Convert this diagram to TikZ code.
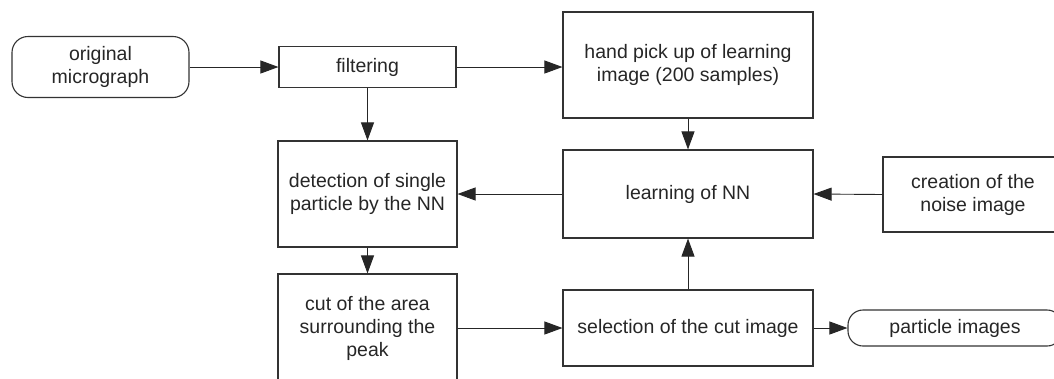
\documentclass[tikz,border=0pt]{standalone}
\usepackage{fontspec}
\setmainfont{Liberation Sans}
\usetikzlibrary{arrows.meta}
\begin{document}
\begin{tikzpicture}[x=1pt,y=-1pt,
  every node/.style={font=\fontsize{19.5pt}{23pt}\selectfont, text=black!85, align=center, inner sep=0pt},
  procbox/.style={draw=black!80, line width=1.1pt, rectangle, minimum width=#1},
  procbox/.default=177pt,
  termbox/.style={draw=black!80, line width=1.1pt, rectangle, rounded corners=#1},
  flow/.style={draw=black!85, line width=0.9pt, -{Triangle[length=18pt,width=13pt]}}
]
\useasboundingbox (0,0) rectangle (1054,378);

% process boxes
\node[termbox=16pt, minimum width=177pt, minimum height=61pt] (orig) at (100.5,67) {original\\micrograph};
\node[procbox, minimum height=41pt] (filter) at (367.5,67) {filtering};
\node[procbox=250pt, minimum height=106pt] (hand) at (688,65) {hand pick up of learning\\image (200 samples)};
\node[procbox=179pt, minimum height=106pt] (detect) at (367.5,194) {detection of single\\particle by the NN};
\node[procbox=250pt, minimum height=88pt] (learn) at (688,194) {learning of NN};
\node[procbox=180pt, minimum height=75pt] (noise) at (973,194.5) {creation of the\\noise image};
\node[procbox=179pt, minimum height=108pt] (cut) at (367.5,328) {cut of the area\\surrounding the\\peak};
\node[procbox=250pt, minimum height=76pt] (sel) at (688,328) {selection of the cut image};
\node[termbox=15pt, minimum width=214pt, minimum height=36pt] (part) at (955,328) {particle images};

% data flow
\draw[flow] (orig.east) -- (filter.west);
\draw[flow] (filter.east) -- (filter.east -| hand.west);
\draw[flow] (filter.south) -- (detect.north);
\draw[flow] (hand.south) -- (learn.north);
\draw[flow] (learn.west) -- (detect.east);
\draw[flow] (noise.west) -- (learn.east);
\draw[flow] (detect.south) -- (cut.north);
\draw[flow] (cut.east) -- (sel.west);
\draw[flow] (sel.north) -- (learn.south);
\draw[flow] (sel.east) -- (part.west);
\end{tikzpicture}
\end{document}
